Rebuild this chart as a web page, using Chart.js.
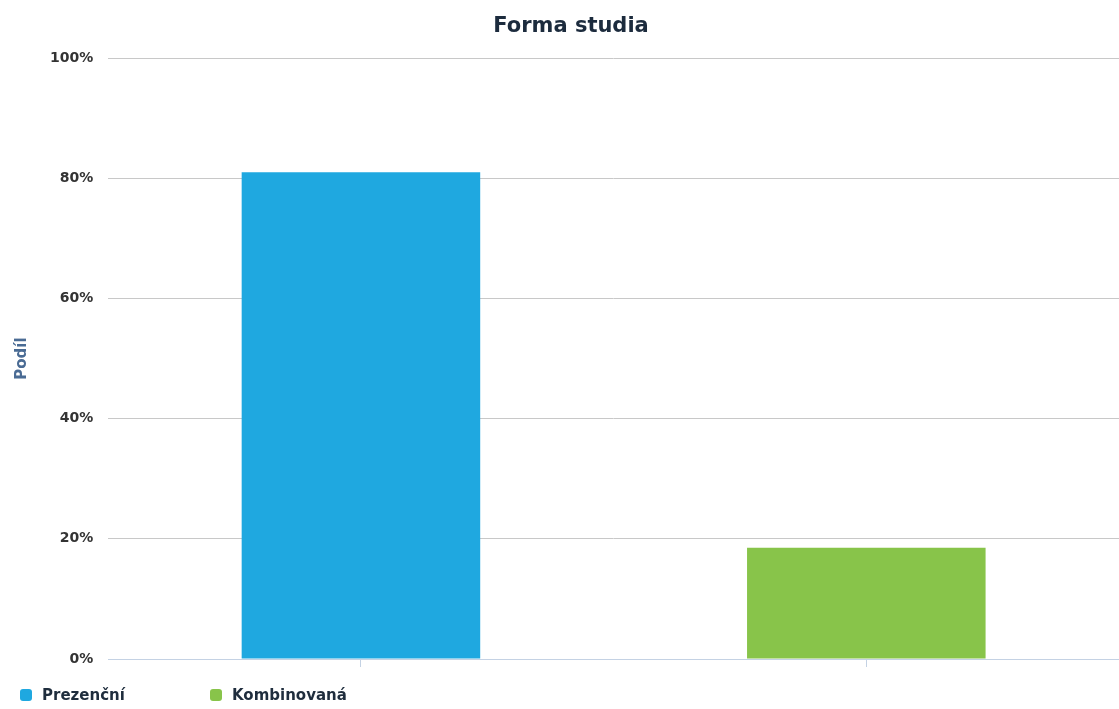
<!DOCTYPE html>
<html>
<head>
<meta charset="utf-8">
<script src="https://cdn.jsdelivr.net/npm/chart.js@4"></script>
<style>
  html, body { margin: 0; padding: 0; background: #fff; }
  #wrap { position: relative; width: 1119px; height: 709px; }
  #legend { position: absolute; left: 20px; top: 686px; display: flex; font: bold 15px "DejaVu Sans", sans-serif; color: #1f2d3d; }
  #legend .item { display: flex; align-items: center; width: 190px; }
  #legend .box { width: 12px; height: 12px; border-radius: 3px; margin-right: 10px; }
</style>
</head>
<body>
<div id="wrap">
  <canvas id="grafica" width="1119" height="709"></canvas>
  <div id="legend"></div>
</div>
<script>
// --- datos ---
const categorias = ['Prezenční', 'Kombinovaná'];
const podil = [81.0, 18.5];
const colores = ['#1fa8e0', '#88c44a'];
const ticksY = [0, 20, 40, 60, 80, 100];

// leyenda propia (fila a la izquierda, abajo)
const legend = document.getElementById('legend');
categorias.forEach((c, i) => {
    const item = document.createElement('div');
    item.className = 'item';
    item.innerHTML = '<span class="box" style="background:' + colores[i] + '"></span>' + c;
    legend.appendChild(item);
});

const ctx = document.getElementById('grafica').getContext('2d');
new Chart(ctx, {
    type: 'bar',
    data: {
        labels: categorias,
        datasets: [{
            label: 'Podíl',
            data: podil,
            backgroundColor: colores,
            borderWidth: 0,
            categoryPercentage: 0.472,
            barPercentage: 1
        }]
    },
    options: {
        responsive: false,
        animation: false,
        layout: { padding: { left: 13, right: -10, bottom: 42, top: 0 } },
        plugins: {
            legend: { display: false },
            tooltip: { enabled: false },
            title: {
                display: true,
                text: 'Forma studia',
                color: '#1c2b3d',
                font: { family: 'DejaVu Sans', size: 21, weight: 'bold' },
                padding: { top: 14, bottom: 19 }
            }
        },
        scales: {
            x: {
                offset: true,
                grid: { offset: false, drawOnChartArea: false, drawTicks: true, tickLength: 8, color: '#c4d2e4' },
                border: { color: '#c4d2e4' },
                ticks: { display: false }
            },
            y: {
                min: 0,
                max: 100,
                afterBuildTicks: axis => { axis.ticks = ticksY.map(v => ({ value: v })); },
                grid: { color: '#c8c8c8', drawTicks: false },
                border: { display: false },
                ticks: {
                    padding: 15,
                    color: '#333',
                    font: { family: 'DejaVu Sans', size: 14, weight: 'bold' },
                    callback: v => v + '%'
                },
                title: {
                    display: true,
                    text: 'Podíl',
                    color: '#4a6b94',
                    font: { family: 'DejaVu Sans', size: 15, weight: 'bold' },
                    padding: { top: 0, bottom: 4 }
                }
            }
        }
    }
});
</script>
</body>
</html>
